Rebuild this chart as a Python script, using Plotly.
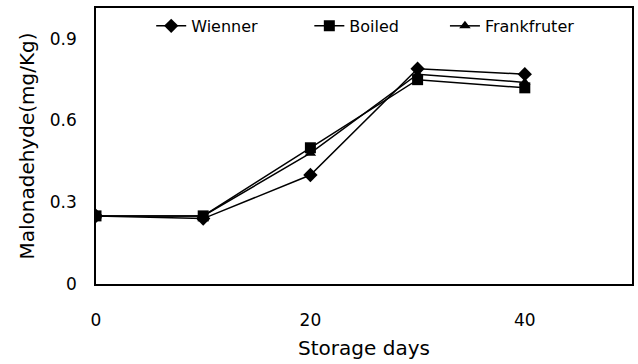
import plotly.graph_objects as go

days = [0, 10, 20, 30, 40]
wienner = [0.25, 0.24, 0.40, 0.79, 0.77]
boiled = [0.25, 0.25, 0.50, 0.75, 0.72]
frankfruter = [0.25, 0.25, 0.48, 0.77, 0.74]

x_ticks = [0, 20, 40]
y_ticks = [0, 0.3, 0.6, 0.9]
y_tick_text = ["0", "0.3", "0.6", "0.9"]

FONT = "DejaVu Sans"

series = [
    ("Wienner", wienner, "diamond", 11, "legend"),
    ("Boiled", boiled, "square", 11, "legend2"),
    ("Frankfruter", frankfruter, "triangle-up", 10, "legend3"),
]

fig = go.Figure()
for name, vals, sym, size, leg in series:
    fig.add_trace(go.Scatter(
        x=days, y=vals, name=name, mode="lines+markers",
        line=dict(color="black", width=1.5),
        marker=dict(symbol=sym, size=size, color="black"),
        legend=leg, showlegend=True,
    ))

legend_style = dict(
    orientation="h", yanchor="middle", y=0.935, xanchor="left",
    bgcolor="rgba(0,0,0,0)", font=dict(family=FONT, size=16, color="black"),
)

fig.update_layout(
    width=638, height=364,
    margin=dict(l=96, r=4, t=8, b=80),
    paper_bgcolor="white", plot_bgcolor="white",
    font=dict(family=FONT, size=17, color="black"),
    showlegend=True,
    legend=dict(x=0.103, **legend_style),
    legend2=dict(x=0.398, **legend_style),
    legend3=dict(x=0.651, **legend_style),
    xaxis=dict(
        range=[0, 50], tickvals=x_ticks, showgrid=False, zeroline=False,
        showline=True, linecolor="black", linewidth=1.5, mirror=True,
        ticks="", ticklabelstandoff=20,
        title=dict(text="Storage days", standoff=12),
    ),
    yaxis=dict(
        range=[0, 1.013], tickvals=y_ticks, ticktext=y_tick_text,
        showgrid=False, zeroline=False,
        showline=True, linecolor="black", linewidth=1.5, mirror=True,
        ticks="", ticklabelstandoff=14,
        title=dict(text="Malonadehyde(mg/Kg)", standoff=10),
    ),
)

fig.write_html("out.html")
